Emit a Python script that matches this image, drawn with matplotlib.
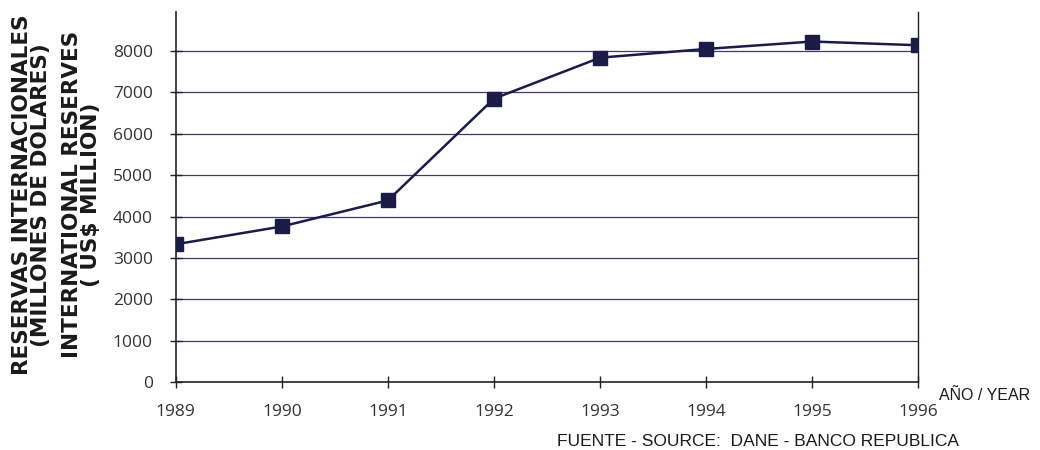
import matplotlib.pyplot as plt

years = [1989, 1990, 1991, 1992, 1993, 1994, 1995, 1996]
reserves = [3330, 3760, 4390, 6850, 7840, 8050, 8230, 8140]
yticks = [0, 1000, 2000, 3000, 4000, 5000, 6000, 7000, 8000]

navy = '#1b1b45'
grid_col = '#3c3c66'

fig = plt.figure(figsize=(10.4, 4.5), dpi=100)
ax = fig.add_axes([0.169, 0.151, 0.714, 0.822])

for v in yticks[1:]:
    ax.axhline(v, color=grid_col, lw=0.9, zorder=1)

ax.plot(years, reserves, color=navy, lw=1.8, marker='s', markersize=10,
        markerfacecolor=navy, markeredgecolor=navy, zorder=3)

ax.set_xlim(1989, 1996)
ax.set_ylim(0, 8940)
ax.set_xticks(years)
ax.set_yticks(yticks)
ax.tick_params(direction='inout', length=9, width=1, color='#222222',
               labelsize=12.5, labelcolor='#333333')
ax.tick_params(axis='x', pad=11)
ax.tick_params(axis='y', pad=12)
for lab in ax.get_xticklabels() + ax.get_yticklabels():
    lab.set_family('Open Sans')
ax.spines['top'].set_visible(False)
for s in ['left', 'bottom', 'right']:
    ax.spines[s].set_color('#222222')
    ax.spines[s].set_linewidth(1.2)
ax.spines['right'].set_linewidth(1.0)

fig.text(0.030, 0.567, 'RESERVAS INTERNACIONALES\n(MILLONES DE DOLARES)',
         rotation=90, ha='center', va='center', fontsize=15.5,
         fontweight='bold', family='DejaVu Sans', color='#1a1a1a',
         linespacing=0.95)
fig.text(0.078, 0.567, 'INTERNATIONAL RESERVES\n( US$ MILLION)',
         rotation=90, ha='center', va='center', fontsize=15.5,
         fontweight='bold', family='DejaVu Sans', color='#1a1a1a',
         linespacing=0.95)

fig.text(0.903, 0.122, 'AÑO / YEAR', fontsize=11.5, family='Liberation Sans',
         color='#1a1a1a', ha='left', va='center')
fig.text(0.536, 0.02, 'FUENTE - SOURCE:  DANE - BANCO REPUBLICA', fontsize=12.5,
         family='Liberation Sans', color='#1a1a1a', ha='left', va='center')

fig.savefig('out.png', dpi=100)
